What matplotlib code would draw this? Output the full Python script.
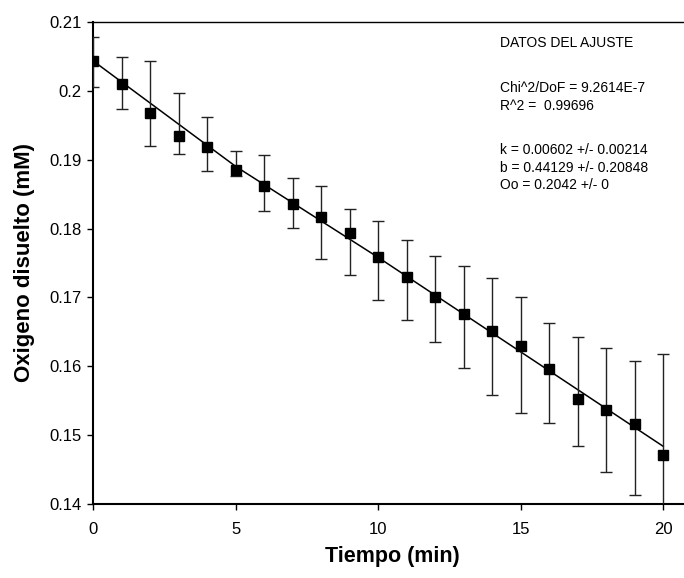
import matplotlib
matplotlib.use("Agg")
import matplotlib.pyplot as plt

# ---- data ----
time_min = [0, 1, 2, 3, 4, 5, 6, 7, 8, 9, 10, 11, 12, 13, 14, 15, 16, 17, 18, 19, 20]
oxygen_mM = [0.2043, 0.2009, 0.1968, 0.1934, 0.1918, 0.1885, 0.1862, 0.1836, 0.1817,
             0.1793, 0.1759, 0.1730, 0.1700, 0.1676, 0.1652, 0.1630, 0.1596, 0.1553,
             0.1537, 0.1517, 0.1471]
err_upper = [0.0035, 0.0040, 0.0075, 0.0063, 0.0044, 0.0028, 0.0044, 0.0038, 0.0045,
             0.0036, 0.0052, 0.0053, 0.0060, 0.0069, 0.0076, 0.0070, 0.0067, 0.0089,
             0.0090, 0.0091, 0.0147]
err_lower = [0.0037, 0.0035, 0.0048, 0.0026, 0.0034, 0.0009, 0.0037, 0.0035, 0.0061,
             0.0061, 0.0063, 0.0062, 0.0065, 0.0079, 0.0094, 0.0097, 0.0078, 0.0069,
             0.0090, 0.0103, 0.0147]

# fitted curve
fit_t = [0, 5, 10, 15, 20]
fit_o = [0.2043, 0.1890, 0.1758, 0.1621, 0.1484]

x_ticks = [0, 5, 10, 15, 20]
y_ticks = [0.14, 0.15, 0.16, 0.17, 0.18, 0.19, 0.20, 0.21]
y_tick_labels = ["0.14", "0.15", "0.16", "0.17", "0.18", "0.19", "0.2", "0.21"]

fit_title = "DATOS DEL AJUSTE"
fit_stats = ["Chi^2/DoF = 9.2614E-7", "R^2 =  0.99696"]
fit_params = ["k = 0.00602 +/- 0.00214", "b = 0.44129 +/- 0.20848", "Oo = 0.2042 +/- 0"]

plt.rcParams["font.family"] = ["Liberation Sans", "DejaVu Sans"]

W, H = 684, 578
fig = plt.figure(figsize=(W / 100, H / 100), dpi=100)
left_px, right_px, top_px, bottom_px = 93.3, 691.8, 21.7, 504.3
ax = fig.add_axes([left_px / W, 1 - bottom_px / H, (right_px - left_px) / W,
                   (bottom_px - top_px) / H])

ax.plot(fit_t, fit_o, color="black", lw=1.1, zorder=2)
ax.errorbar(time_min, oxygen_mM, yerr=[err_lower, err_upper], fmt="none",
            ecolor="#222222", elinewidth=1.0, capsize=4, capthick=1.0, zorder=3)
ax.plot(time_min, oxygen_mM, ls="none", marker="s", ms=7.5, color="black", zorder=4)

ax.set_xlim(0, 21)
ax.set_ylim(0.14, 0.21)
ax.set_xticks(x_ticks)
ax.set_xticklabels([str(v) for v in x_ticks])
ax.set_yticks(y_ticks)
ax.set_yticklabels(y_tick_labels)

ax.tick_params(axis="both", direction="out", labelsize=12, colors="black")
ax.tick_params(axis="x", length=4, width=1.0, pad=9)
ax.tick_params(axis="y", length=4.5, width=1.0, pad=4)

for s in ["left", "bottom"]:
    ax.spines[s].set_linewidth(1.5)
ax.spines["top"].set_linewidth(1.0)
ax.spines["right"].set_visible(False)

ax.set_xlabel("Tiempo (min)", fontsize=15.5, fontweight="bold", labelpad=6)
ax.set_ylabel("Oxigeno disuelto (mM)", fontsize=16, fontweight="bold", labelpad=10)

def fy(py):
    return (bottom_px - py) / (bottom_px - top_px)

tx = (500 - left_px) / (right_px - left_px)
ax.text(tx, fy(43.3), fit_title, transform=ax.transAxes, fontsize=10, va="center", ha="left")
for i, s in enumerate(fit_stats):
    ax.text(tx, fy(88.3 + 17.6 * i), s, transform=ax.transAxes, fontsize=10, va="center", ha="left")
for i, s in enumerate(fit_params):
    ax.text(tx, fy(150 + 17.6 * i), s, transform=ax.transAxes, fontsize=10, va="center", ha="left")

fig.savefig("out.png", dpi=100)
